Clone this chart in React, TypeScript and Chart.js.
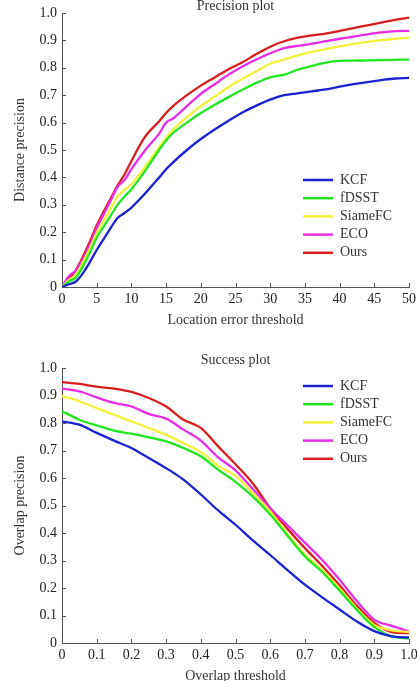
import React, { useEffect, useRef } from 'react';
import { Chart, registerables } from 'chart.js';

Chart.register(...registerables);

const seriesNames = ['KCF', 'fDSST', 'SiameFC', 'ECO', 'Ours'];
const seriesColors = ['#1c22d2', '#22e622', '#f2f23a', '#e82ce8', '#d81e1e'];

// Precision plot (x: location error threshold)
const precisionThresholds = [0, 1, 2, 3, 4, 5, 6, 7, 8, 9, 10, 12, 14, 15, 16, 18, 20, 22, 24, 26, 28, 30, 32, 34, 36, 38, 40, 42, 44, 46, 48, 50];
const precisionKCF = [0, 0.01, 0.02, 0.05, 0.09, 0.135, 0.175, 0.215, 0.252, 0.27, 0.29, 0.342, 0.4, 0.43, 0.455, 0.5, 0.54, 0.575, 0.607, 0.637, 0.662, 0.684, 0.7, 0.707, 0.714, 0.721, 0.731, 0.74, 0.748, 0.755, 0.761, 0.763];
const precisionFDSST = [0, 0.02, 0.035, 0.075, 0.125, 0.18, 0.22, 0.26, 0.3, 0.33, 0.357, 0.425, 0.5, 0.535, 0.562, 0.6, 0.635, 0.665, 0.693, 0.72, 0.745, 0.765, 0.775, 0.793, 0.807, 0.819, 0.825, 0.826, 0.827, 0.828, 0.829, 0.83];
const precisionSiameFC = [0, 0.025, 0.045, 0.09, 0.14, 0.198, 0.242, 0.287, 0.33, 0.355, 0.375, 0.44, 0.51, 0.545, 0.575, 0.62, 0.66, 0.695, 0.73, 0.76, 0.787, 0.815, 0.83, 0.845, 0.858, 0.868, 0.878, 0.887, 0.895, 0.901, 0.906, 0.909];
const precisionECO = [0, 0.04, 0.06, 0.1, 0.155, 0.215, 0.265, 0.315, 0.365, 0.39, 0.43, 0.5, 0.56, 0.6, 0.615, 0.66, 0.705, 0.74, 0.775, 0.805, 0.83, 0.853, 0.872, 0.88, 0.888, 0.897, 0.906, 0.914, 0.922, 0.929, 0.934, 0.935];
const precisionOurs = [0, 0.03, 0.062, 0.11, 0.165, 0.225, 0.275, 0.322, 0.37, 0.41, 0.46, 0.55, 0.605, 0.635, 0.66, 0.7, 0.735, 0.765, 0.795, 0.82, 0.85, 0.877, 0.897, 0.91, 0.918, 0.925, 0.935, 0.945, 0.955, 0.965, 0.975, 0.983];

// Success plot (x: overlap threshold)
const successThresholds = [0, 0.05, 0.1, 0.15, 0.2, 0.25, 0.3, 0.35, 0.4, 0.45, 0.5, 0.55, 0.6, 0.65, 0.7, 0.75, 0.8, 0.85, 0.9, 0.95, 1.0];
const successKCF = [0.806, 0.794, 0.764, 0.736, 0.709, 0.673, 0.636, 0.594, 0.54, 0.482, 0.43, 0.373, 0.32, 0.265, 0.212, 0.166, 0.122, 0.078, 0.043, 0.024, 0.02];
const successFDSST = [0.843, 0.812, 0.791, 0.772, 0.761, 0.748, 0.733, 0.709, 0.679, 0.63, 0.586, 0.532, 0.467, 0.39, 0.315, 0.258, 0.19, 0.12, 0.058, 0.024, 0.016];
const successSiameFC = [0.898, 0.879, 0.854, 0.83, 0.806, 0.782, 0.757, 0.727, 0.694, 0.645, 0.608, 0.545, 0.478, 0.396, 0.322, 0.264, 0.198, 0.125, 0.066, 0.046, 0.04];
const successECO = [0.925, 0.915, 0.893, 0.873, 0.86, 0.833, 0.816, 0.776, 0.736, 0.675, 0.628, 0.56, 0.49, 0.428, 0.365, 0.302, 0.23, 0.152, 0.085, 0.062, 0.042];
const successOurs = [0.949, 0.942, 0.932, 0.925, 0.913, 0.891, 0.86, 0.812, 0.782, 0.715, 0.65, 0.58, 0.49, 0.415, 0.345, 0.28, 0.21, 0.135, 0.073, 0.04, 0.036];

const FONT = '"Liberation Serif", "Times New Roman", serif';
const TEXT = '#333';
const AXIS = '#555';

const inwardTicks = {
  id: 'inwardTicks',
  beforeDatasetsDraw(chart: any) {
    const { ctx, chartArea, scales } = chart;
    ctx.save();
    ctx.strokeStyle = AXIS;
    ctx.lineWidth = 1;
    scales.x.ticks.forEach((t: any) => {
      const px = Math.round(scales.x.getPixelForValue(t.value)) + 0.5;
      ctx.beginPath();
      ctx.moveTo(px, chartArea.bottom);
      ctx.lineTo(px, chartArea.bottom - 4);
      ctx.stroke();
    });
    scales.y.ticks.forEach((t: any) => {
      const py = Math.round(scales.y.getPixelForValue(t.value)) + 0.5;
      ctx.beginPath();
      ctx.moveTo(chartArea.left, py);
      ctx.lineTo(chartArea.left + 4, py);
      ctx.stroke();
    });
    ctx.restore();
  },
};

const lineLegend = {
  id: 'lineLegend',
  afterDatasetsDraw(chart: any, _args: any, opts: any) {
    const { ctx } = chart;
    const { x, y, gap, lineLen, textGap } = opts;
    ctx.save();
    ctx.font = `14px ${FONT}`;
    ctx.textBaseline = 'middle';
    ctx.textAlign = 'left';
    chart.data.datasets.forEach((ds: any, i: number) => {
      const yy = y + i * gap;
      ctx.strokeStyle = ds.borderColor;
      ctx.lineWidth = 2.5;
      ctx.beginPath();
      ctx.moveTo(x, yy);
      ctx.lineTo(x + lineLen, yy);
      ctx.stroke();
      ctx.fillStyle = TEXT;
      ctx.fillText(ds.label, x + lineLen + textGap, yy);
    });
    ctx.restore();
  },
};

const fmt1 = (v: number) => (v === 0 ? '0' : Number(v).toFixed(1));

function buildConfig(p: {
  xs: number[];
  series: number[][];
  xMax: number;
  xStep: number;
  xFmt: (v: number) => string;
  title: string;
  titlePadTop: number;
  titlePadBottom: number;
  xTitle: string;
  yTitle: string;
  legendY: number;
}) {
  return {
    type: 'line',
    data: {
      datasets: p.series.map((vals, i) => ({
        label: seriesNames[i],
        data: p.xs.map((x, j) => ({ x, y: vals[j] })),
        borderColor: seriesColors[i],
        backgroundColor: seriesColors[i],
        borderWidth: 2.3,
        pointRadius: 0,
        tension: 0.3,
        cubicInterpolationMode: 'monotone',
        fill: false,
      })),
    },
    options: {
      responsive: false,
      animation: false,
      layout: { padding: { left: 0, right: 8, top: 0, bottom: 0 } },
      plugins: {
        legend: { display: false },
        tooltip: { enabled: false },
        title: {
          display: true,
          text: p.title,
          fullSize: false,
          color: TEXT,
          font: { family: FONT, size: 14, weight: 'normal', lineHeight: '13px' },
          padding: { top: p.titlePadTop, bottom: p.titlePadBottom },
        },
        lineLegend: { x: 303, y: p.legendY, gap: 18.2, lineLen: 30, textGap: 7 },
      },
      scales: {
        x: {
          type: 'linear',
          min: 0,
          max: p.xMax,
          ticks: {
            stepSize: p.xStep,
            padding: 4,
            color: '#222',
            font: { family: FONT, size: 14 },
            maxRotation: 0,
            autoSkip: false,
            callback: (v: any) => p.xFmt(Number(v)),
          },
          grid: { display: false, drawTicks: false },
          border: { display: true, color: AXIS, width: 1 },
          title: {
            display: true,
            text: p.xTitle,
            color: TEXT,
            font: { family: FONT, size: 14 },
            padding: { top: 0, bottom: 1.5 },
          },
          afterFit: (s: any) => {
            s.height = 43;
            s.paddingLeft = 0;
            s.paddingRight = 0;
          },
        },
        y: {
          type: 'linear',
          min: 0,
          max: 1,
          ticks: {
            stepSize: 0.1,
            padding: 5,
            color: '#222',
            font: { family: FONT, size: 14 },
            callback: (v: any) => fmt1(Number(v)),
          },
          grid: { display: false, drawTicks: false },
          border: { display: true, color: AXIS, width: 1 },
          title: {
            display: true,
            text: p.yTitle,
            color: TEXT,
            font: { family: FONT, size: 14 },
            padding: { top: 12, bottom: 0 },
          },
          afterFit: (s: any) => {
            s.width = 62;
            s.paddingTop = 0;
            s.paddingBottom = 0;
          },
        },
      },
    },
    plugins: [inwardTicks, lineLegend],
  };
}

function ChartCanvas({ config, width, height, top }: { config: any; width: number; height: number; top: number }) {
  const ref = useRef<HTMLCanvasElement | null>(null);
  useEffect(() => {
    if (!ref.current) return;
    const chart = new Chart(ref.current, config);
    return () => chart.destroy();
  }, [config]);
  return (
    <canvas
      ref={ref}
      width={width}
      height={height}
      style={{ position: 'absolute', left: 0, top, width, height, display: 'block' }}
    />
  );
}

const precisionConfig = buildConfig({
  xs: precisionThresholds,
  series: [precisionKCF, precisionFDSST, precisionSiameFC, precisionECO, precisionOurs],
  xMax: 50,
  xStep: 5,
  xFmt: (v) => String(Math.round(v)),
  title: 'Precision plot',
  titlePadTop: 0,
  titlePadBottom: 0,
  xTitle: 'Location error threshold',
  yTitle: 'Distance precision',
  legendY: 180,
});

const successConfig = buildConfig({
  xs: successThresholds,
  series: [successKCF, successFDSST, successSiameFC, successECO, successOurs],
  xMax: 1,
  xStep: 0.1,
  xFmt: fmt1,
  title: 'Success plot',
  titlePadTop: 23.5,
  titlePadBottom: 1.5,
  xTitle: 'Overlap threshold',
  yTitle: 'Overlap precision',
  legendY: 56,
});

export default function App() {
  return (
    <div
      style={{
        position: 'absolute',
        left: 0,
        top: 0,
        width: 417,
        height: 681,
        overflow: 'hidden',
        background: '#fff',
      }}
    >
      <ChartCanvas config={precisionConfig} width={417} height={330} top={0} />
      <ChartCanvas config={successConfig} width={417} height={356} top={330} />
    </div>
  );
}
